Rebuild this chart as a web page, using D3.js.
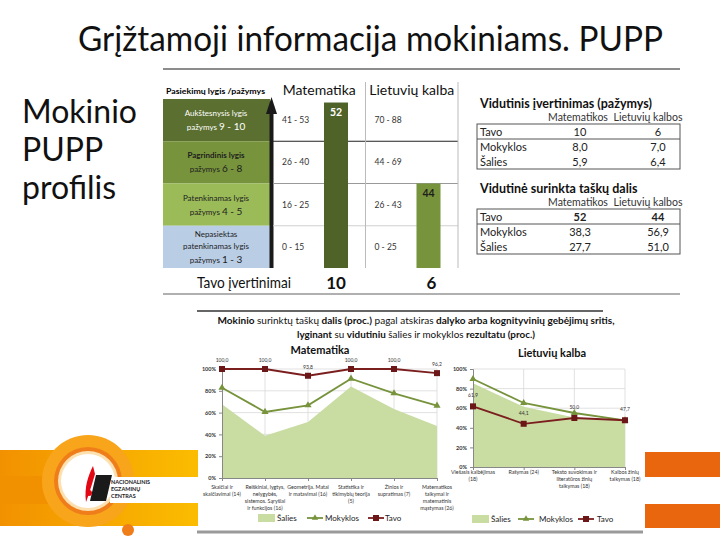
<!DOCTYPE html>
<html><head><meta charset="utf-8">
<script src="https://cdn.jsdelivr.net/npm/d3@7"></script>
<style>body{margin:0;background:#fff}svg{display:block;font-family:Lato,'Open Sans',sans-serif}</style>
</head><body><svg id="c" width="720" height="540"></svg>
<script>
// ---------- DATA ----------
const slideTitle = "Grįžtamoji informacija mokiniams. PUPP";
const sideTitle = ["Mokinio", "PUPP", "profilis"];
const levelHeader = "Pasiekimų lygis /pažymys";
const levelTitles = [["Aukštesnysis lygis"], ["Pagrindinis lygis"], ["Patenkinamas lygis"], ["Nepasiektas", "patenkinamas lygis"]];
const levelGrades = ["9 - 10", "6 - 8", "4 - 5", "1 - 3"];
const subjects = ["Matematika", "Lietuvių kalba"];
const mathRanges = ["41 - 53", "26 - 40", "16 - 25", "0 - 15"];
const lithRanges = ["70 - 88", "44 - 69", "26 - 43", "0 - 25"];
const myScores = [52, 44];
const myGrades = [10, 6];
const gradesLabel = "Tavo įvertinimai";

const table1Title = "Vidutinis įvertinimas (pažymys)";
const table2Title = "Vidutinė surinkta taškų dalis";
const tableCols = ["Matematikos", "Lietuvių kalbos"];
const tableRows = ["Tavo", "Mokyklos", "Šalies"];
const avgGradeMath = ["10", "8,0", "5,9"];
const avgGradeLith = ["6", "7,0", "6,4"];
const shareMath = ["52", "38,3", "27,7"];
const shareLith = ["44", "56,9", "51,0"];

const bottomTitle1 = [["Mokinio", true], [" surinktų taškų ", false], ["dalis (proc.)", true], [" pagal atskiras ", false], ["dalyko arba kognityvinių gebėjimų sritis,", true]];
const bottomTitle2 = [["lyginant", true], [" su ", false], ["vidutiniu", true], [" šalies ir mokyklos ", false], ["rezultatu (proc.)", true]];
const seriesNames = ["Šalies", "Mokyklos", "Tavo"];
const pctTicks = [0, 20, 40, 60, 80, 100];

const mathCategories = [["Skaičiai ir", "skaičiavimai (14)"], ["Reiškiniai, lygtys,", "nelygybės,", "sistemos. Sąryšiai", "ir funkcijos (16)"], ["Geometrija. Matai", "ir matavimai (16)"], ["Statistika ir", "tikimybių teorija", "(5)"], ["Žinios ir", "supratimas (7)"], ["Matematikos", "taikymai ir", "matematinis", "mąstymas (26)"]];
const mathSalies = [67.6, 38.8, 51.4, 84.0, 63.3, 47.7];
const mathMokyklos = [82.8, 60.6, 66.7, 91.1, 77.7, 66.3];
const mathTavo = [100.0, 100.0, 93.8, 100.0, 100.0, 96.2];

const lithCategories = [["Viešasis kalbėjimas", "(18)"], ["Rašymas (24)"], ["Teksto suvokimas ir", "literatūros žinių", "taikymas (18)"], ["Kalbos žinių", "taikymas (18)"]];
const lithSalies = [85.5, 61.5, 50.5, 47.5];
const lithMokyklos = [89.8, 65.3, 55.1, 47.6];
const lithTavo = [61.9, 44.1, 50.0, 47.7];

const logoText = ["NACIONALINIS", "EGZAMINŲ", "CENTRAS"];

// ---------- DRAW ----------
const svg = d3.select("#c");
const defs = svg.append("defs");
const lg = defs.append("linearGradient").attr("id", "lg").attr("x1", 0).attr("x2", 1);
lg.append("stop").attr("offset", "0%").attr("stop-color", "#f29100");
lg.append("stop").attr("offset", "100%").attr("stop-color", "#fbbd00");

// logo stripes
svg.append("rect").attr("x", 0).attr("y", 450).attr("width", 200).attr("height", 27).attr("fill", "url(#lg)");
svg.append("rect").attr("x", 0).attr("y", 503).attr("width", 200).attr("height", 23).attr("fill", "url(#lg)");
svg.append("rect").attr("x", 0).attr("y", 476).attr("width", 50).attr("height", 28).attr("fill", "#f29100");
svg.append("rect").attr("x", 645).attr("y", 452).attr("width", 75).attr("height", 25).attr("fill", "#e9650e");
svg.append("rect").attr("x", 645).attr("y", 504).attr("width", 75).attr("height", 24).attr("fill", "#e9650e");
svg.append("circle").attr("cx", 88).attr("cy", 481).attr("r", 46).attr("fill", "#f8a51b");
svg.append("circle").attr("cx", 88).attr("cy", 481).attr("r", 34).attr("fill", "#ee7d1a");
svg.append("circle").attr("cx", 88).attr("cy", 481).attr("r", 30).attr("fill", "#fde0b0");
svg.append("circle").attr("cx", 88).attr("cy", 481).attr("r", 27).attr("fill", "#fff");
svg.append("rect").attr("x", 110).attr("y", 477).attr("width", 90).attr("height", 26).attr("fill", "#fff");
svg.append("circle").attr("cx", 128).attr("cy", 530).attr("r", 6).attr("fill", "#ee7d1a");
svg.append("path").attr("d", "M96,475 L112,475 L106,501 L90,501 Z").attr("fill", "#1a1a1a");
svg.append("path").attr("d", "M93,466 C88,476 84,488 86,502 C89,494 92,484 95,474 Z").attr("fill", "#e30613");
svg.append("circle").attr("cx", 89).attr("cy", 493).attr("r", 3).attr("fill", "#e30613");
svg.selectAll(".lt").data(logoText).join("text").attr("x", 111).attr("y", (d, i) => 484 + i * 7)
  .attr("font-size", 5.5).attr("font-weight", 700).attr("fill", "#222").text(d => d);

// titles
svg.append("text").attr("x", 78).attr("y", 51).attr("font-size", 34).attr("fill", "#111")
  .attr("textLength", 585).attr("lengthAdjust", "spacingAndGlyphs").text(slideTitle);
svg.selectAll(".st").data(sideTitle).join("text").attr("x", 22).attr("y", (d, i) => 123 + i * 38)
  .attr("font-size", 32).attr("fill", "#111").text(d => d);

// ---------- top panel ----------
svg.append("line").attr("x1", 163).attr("x2", 680).attr("y1", 69).attr("y2", 69).attr("stroke", "#8c8c8c").attr("stroke-width", 2);
svg.append("line").attr("x1", 163).attr("x2", 680).attr("y1", 294).attr("y2", 294).attr("stroke", "#b0b0b0").attr("stroke-width", 2);

const rowY = d3.scaleBand().domain(d3.range(4)).range([99, 268]);
const colX = d3.scaleBand().domain(subjects).range([273, 458]);
const levelFill = ["#5b7030", "#77933c", "#9bbb59", "#b9cde5"];
const levelText = ["#ffffff", "#1e1e1e", "#1e1e1e", "#1e1e1e"];

svg.append("text").attr("x", 166).attr("y", 94).attr("font-size", 7.5).attr("font-weight", 700)
  .attr("textLength", 99).attr("lengthAdjust", "spacingAndGlyphs").text(levelHeader);
svg.selectAll(".subh").data(subjects).join("text")
  .attr("x", d => colX(d) + colX.bandwidth() / 2).attr("y", 95).attr("text-anchor", "middle")
  .attr("font-size", 14).attr("fill", "#111").text(d => d);

const lv = svg.selectAll(".lv").data(d3.range(4)).join("g");
lv.append("rect").attr("x", 163).attr("y", i => rowY(i)).attr("width", 107).attr("height", rowY.bandwidth())
  .attr("fill", i => levelFill[i]);
lv.each(function (i) {
  const g = d3.select(this);
  const n = levelTitles[i].length;
  const cy = rowY(i) + rowY.bandwidth() / 2;
  const start = cy - (n * 12) / 2 + 2;
  levelTitles[i].forEach((t, k) => {
    g.append("text").attr("x", 216).attr("y", start + k * 12).attr("text-anchor", "middle")
      .attr("font-size", 8).attr("font-weight", i === 1 ? 700 : 400).attr("fill", levelText[i]).text(t);
  });
  const gt = g.append("text").attr("x", 216).attr("y", start + n * 12 + 2).attr("text-anchor", "middle").attr("fill", levelText[i]);
  gt.append("tspan").attr("font-size", 8).text("pažymys ");
  gt.append("tspan").attr("font-size", 10).text(levelGrades[i]);
});
// arrow
svg.append("rect").attr("x", 269.5).attr("y", 112).attr("width", 4).attr("height", 156).attr("fill", "#1a1a1a");
svg.append("path").attr("d", "M271.5,97 L266,114 L277,114 Z").attr("fill", "#1a1a1a");

// grid lines of the panel
svg.append("line").attr("x1", 273).attr("x2", 458).attr("y1", rowY(1)).attr("y2", rowY(1)).attr("stroke", "#222").attr("stroke-width", 1);
svg.append("line").attr("x1", 273).attr("x2", 458).attr("y1", rowY(2)).attr("y2", rowY(2)).attr("stroke", "#999").attr("stroke-width", 1);
svg.append("line").attr("x1", 273).attr("x2", 458).attr("y1", rowY(3)).attr("y2", rowY(3)).attr("stroke", "#d0d0d0").attr("stroke-width", 1);
[colX(subjects[1]), 458].forEach(x => svg.append("line").attr("x1", x).attr("x2", x).attr("y1", 82).attr("y2", 268).attr("stroke", "#bbb"));

const rangeSets = [mathRanges, lithRanges];
const barFill = ["#4f6228", "#77933c"];
const labelFill = ["#ffffff", "#1e1e1e"];
subjects.forEach((s, si) => {
  const ranges = rangeSets[si];
  const lows = ranges.map(r => +r.split("-")[0]).reverse();
  const max = +ranges[0].split("-")[1];
  const y = d3.scaleLinear().domain(lows.concat([max]))
    .range([rowY(3) + rowY.bandwidth(), rowY(3), rowY(2), rowY(1), rowY(0)]);
  const x0 = colX(s);
  svg.selectAll(".rg" + si).data(ranges).join("text").attr("x", x0 + 9).attr("y", (d, i) => rowY(i) + rowY.bandwidth() / 2 + 3)
    .attr("font-size", 8.5).attr("fill", "#333").text(d => d);
  const bx = x0 + 51, bw = 24;
  svg.append("rect").attr("x", bx).attr("y", y(myScores[si])).attr("width", bw).attr("height", y(0) - y(myScores[si])).attr("fill", barFill[si]);
  svg.append("text").attr("x", bx + bw / 2).attr("y", y(myScores[si]) + 13).attr("text-anchor", "middle")
    .attr("font-size", 10.5).attr("font-weight", 700).attr("fill", labelFill[si]).text(myScores[si]);
  svg.append("text").attr("x", bx + bw / 2 + si * 3).attr("y", 289).attr("text-anchor", "middle")
    .attr("font-size", 17).attr("font-weight", 700).attr("fill", "#111").text(myGrades[si]);
});
svg.append("text").attr("x", 197).attr("y", 288).attr("font-size", 15).attr("fill", "#111")
  .attr("textLength", 94).attr("lengthAdjust", "spacingAndGlyphs").text(gradesLabel);

// right tables
function table(title, ty, mathVals, lithVals, boldFirst) {
  svg.append("text").attr("x", 480).attr("y", ty).attr("font-size", 12.5).attr("font-weight", 700).attr("fill", "#111").text(title);
  svg.append("text").attr("x", 578).attr("y", ty + 13).attr("text-anchor", "middle").attr("font-size", 10.5).attr("fill", "#333").text(tableCols[0]);
  svg.append("text").attr("x", 648).attr("y", ty + 13).attr("text-anchor", "middle").attr("font-size", 10.5).attr("fill", "#333").text(tableCols[1]);
  const top = ty + 16;
  const ry = d3.scaleBand().domain(tableRows).range([top, top + 45]);
  svg.append("rect").attr("x", 477).attr("y", top).attr("width", 203).attr("height", 45).attr("fill", "none").attr("stroke", "#555");
  svg.append("line").attr("x1", 477).attr("x2", 680).attr("y1", ry(tableRows[1])).attr("y2", ry(tableRows[1])).attr("stroke", "#555");
  tableRows.forEach((r, i) => {
    const by = ry(r) + ry.bandwidth() / 2 + 4;
    const fw = (boldFirst && i === 0) ? 700 : 400;
    svg.append("text").attr("x", 480).attr("y", by).attr("font-size", 11).attr("fill", "#222").text(r);
    svg.append("text").attr("x", 580).attr("y", by).attr("text-anchor", "middle").attr("font-size", 11).attr("font-weight", fw).attr("fill", "#222").text(mathVals[i]);
    svg.append("text").attr("x", 658).attr("y", by).attr("text-anchor", "middle").attr("font-size", 11).attr("font-weight", fw).attr("fill", "#222").text(lithVals[i]);
  });
}
table(table1Title, 108, avgGradeMath, avgGradeLith, false);
table(table2Title, 193, shareMath, shareLith, true);

// ---------- bottom panel ----------
svg.append("rect").attr("x", 198).attr("y", 300).attr("width", 447).attr("height", 232).attr("fill", "#fff");
svg.append("line").attr("x1", 197).attr("x2", 603).attr("y1", 311).attr("y2", 311).attr("stroke", "#666").attr("stroke-width", 2);
svg.append("line").attr("x1", 197).attr("x2", 643).attr("y1", 532).attr("y2", 532).attr("stroke", "#9a9a9a").attr("stroke-width", 3);

function richLine(parts, y, x, len) {
  const t = svg.append("text").attr("x", x).attr("y", y).attr("text-anchor", "middle").attr("font-size", 10).attr("fill", "#111")
    .attr("textLength", len).attr("lengthAdjust", "spacingAndGlyphs");
  parts.forEach(p => t.append("tspan").attr("font-weight", p[1] ? 700 : 400).text(p[0]));
}
richLine(bottomTitle1, 324, 416, 397);
richLine(bottomTitle2, 338, 416, 238);

const fmt = d => d3.format(".1f")(d).replace(".", ",");

function lineChart(c) {
  const g = svg.append("g");
  const x = d3.scalePoint().domain(d3.range(c.cats.length)).range([c.x0, c.x1]);
  const y = d3.scaleLinear().domain([0, 100]).range([c.yb, c.yt]);
  g.append("text").attr("x", c.tx).attr("y", c.ty).attr("text-anchor", "middle").attr("font-size", 11).attr("font-weight", 700).attr("fill", "#111").text(c.title);
  g.selectAll(".hg").data(pctTicks.filter(d => d > 0)).join("line")
    .attr("x1", c.x0).attr("x2", c.x1).attr("y1", d => y(d)).attr("y2", d => y(d)).attr("stroke", "#d9d9d9").attr("stroke-width", 0.8);
  g.selectAll(".vg").data(d3.range(1, c.cats.length)).join("line")
    .attr("x1", d => x(d)).attr("x2", d => x(d)).attr("y1", c.yt).attr("y2", c.yb).attr("stroke", "#d9d9d9").attr("stroke-width", 0.8);
  g.append("path").datum(c.salies).attr("fill", "#c9dca2")
    .attr("d", d3.area().x((d, i) => x(i)).y0(y(0)).y1(d => y(d)));
  const ya = g.append("g").attr("transform", `translate(${c.x0},0)`)
    .call(d3.axisLeft(y).tickValues(pctTicks).tickFormat(d => d + "%").tickSize(3).tickPadding(3));
  ya.select(".domain").attr("stroke", "#888");
  ya.selectAll(".tick line").attr("stroke", "#888");
  ya.selectAll("text").attr("font-size", 5.5).attr("font-weight", 700).attr("fill", "#333").attr("font-family", "Lato");
  const xa = g.append("g").attr("transform", `translate(0,${c.yb})`)
    .call(d3.axisBottom(x).tickSize(3).tickFormat(""));
  xa.select(".domain").attr("stroke", "#888");
  xa.selectAll(".tick line").attr("stroke", "#888");
  g.selectAll(".xl").data(c.cats).join("text").attr("text-anchor", "middle").attr("font-size", 5.3).attr("fill", "#333")
    .each(function (d, i) {
      d3.select(this).selectAll("tspan").data(d).join("tspan").attr("x", x(i)).attr("y", (t, k) => c.ly + k * 7).text(t => t);
    });
  g.append("path").datum(c.mok).attr("fill", "none").attr("stroke", "#77933c").attr("stroke-width", 1.8)
    .attr("d", d3.line().x((d, i) => x(i)).y(d => y(d)));
  g.selectAll(".mm").data(c.mok).join("path").attr("transform", (d, i) => `translate(${x(i)},${y(d)})`)
    .attr("d", d3.symbol(d3.symbolTriangle, 22)).attr("fill", "#77933c");
  g.append("path").datum(c.tavo).attr("fill", "none").attr("stroke", "#7b1e1e").attr("stroke-width", 1.8)
    .attr("d", d3.line().x((d, i) => x(i)).y(d => y(d)));
  g.selectAll(".tm").data(c.tavo).join("rect").attr("x", (d, i) => x(i) - 3).attr("y", d => y(d) - 3)
    .attr("width", 6).attr("height", 6).attr("fill", "#6b1717");
  g.selectAll(".tl").data(c.tavo).join("text").attr("x", (d, i) => x(i)).attr("y", d => y(d) - c.lo)
    .attr("text-anchor", "middle").attr("font-size", 5).attr("fill", "#333").text(d => fmt(d));
  // legend
  const L = c.leg;
  g.append("rect").attr("x", L[0]).attr("y", c.legY - 4).attr("width", 17).attr("height", 8).attr("fill", "#c9dca2");
  g.append("line").attr("x1", L[2]).attr("x2", L[2] + 16).attr("y1", c.legY).attr("y2", c.legY).attr("stroke", "#77933c").attr("stroke-width", 1.8);
  g.append("path").attr("transform", `translate(${L[2] + 8},${c.legY})`).attr("d", d3.symbol(d3.symbolTriangle, 18)).attr("fill", "#77933c");
  g.append("line").attr("x1", L[4]).attr("x2", L[4] + 16).attr("y1", c.legY).attr("y2", c.legY).attr("stroke", "#7b1e1e").attr("stroke-width", 1.8);
  g.append("rect").attr("x", L[4] + 5).attr("y", c.legY - 3).attr("width", 6).attr("height", 6).attr("fill", "#6b1717");
  seriesNames.forEach((s, i) => g.append("text").attr("x", L[i * 2 + 1]).attr("y", c.legY + 3).attr("font-size", 8).attr("fill", "#222").text(s));
}

lineChart({title: subjects[0], tx: 320, ty: 354, cats: mathCategories, salies: mathSalies, mok: mathMokyklos, tavo: mathTavo,
  x0: 222, x1: 437, yt: 369, yb: 478, ly: 489, lo: 7, legY: 518, leg: [258, 277, 307, 325, 368, 385]});
lineChart({title: subjects[1], tx: 552, ty: 357, cats: lithCategories, salies: lithSalies, mok: lithMokyklos, tavo: lithTavo,
  x0: 473, x1: 625, yt: 369, yb: 467, ly: 474, lo: 9, legY: 519, leg: [472, 491, 518, 539, 578, 597]});
</script></body></html>
